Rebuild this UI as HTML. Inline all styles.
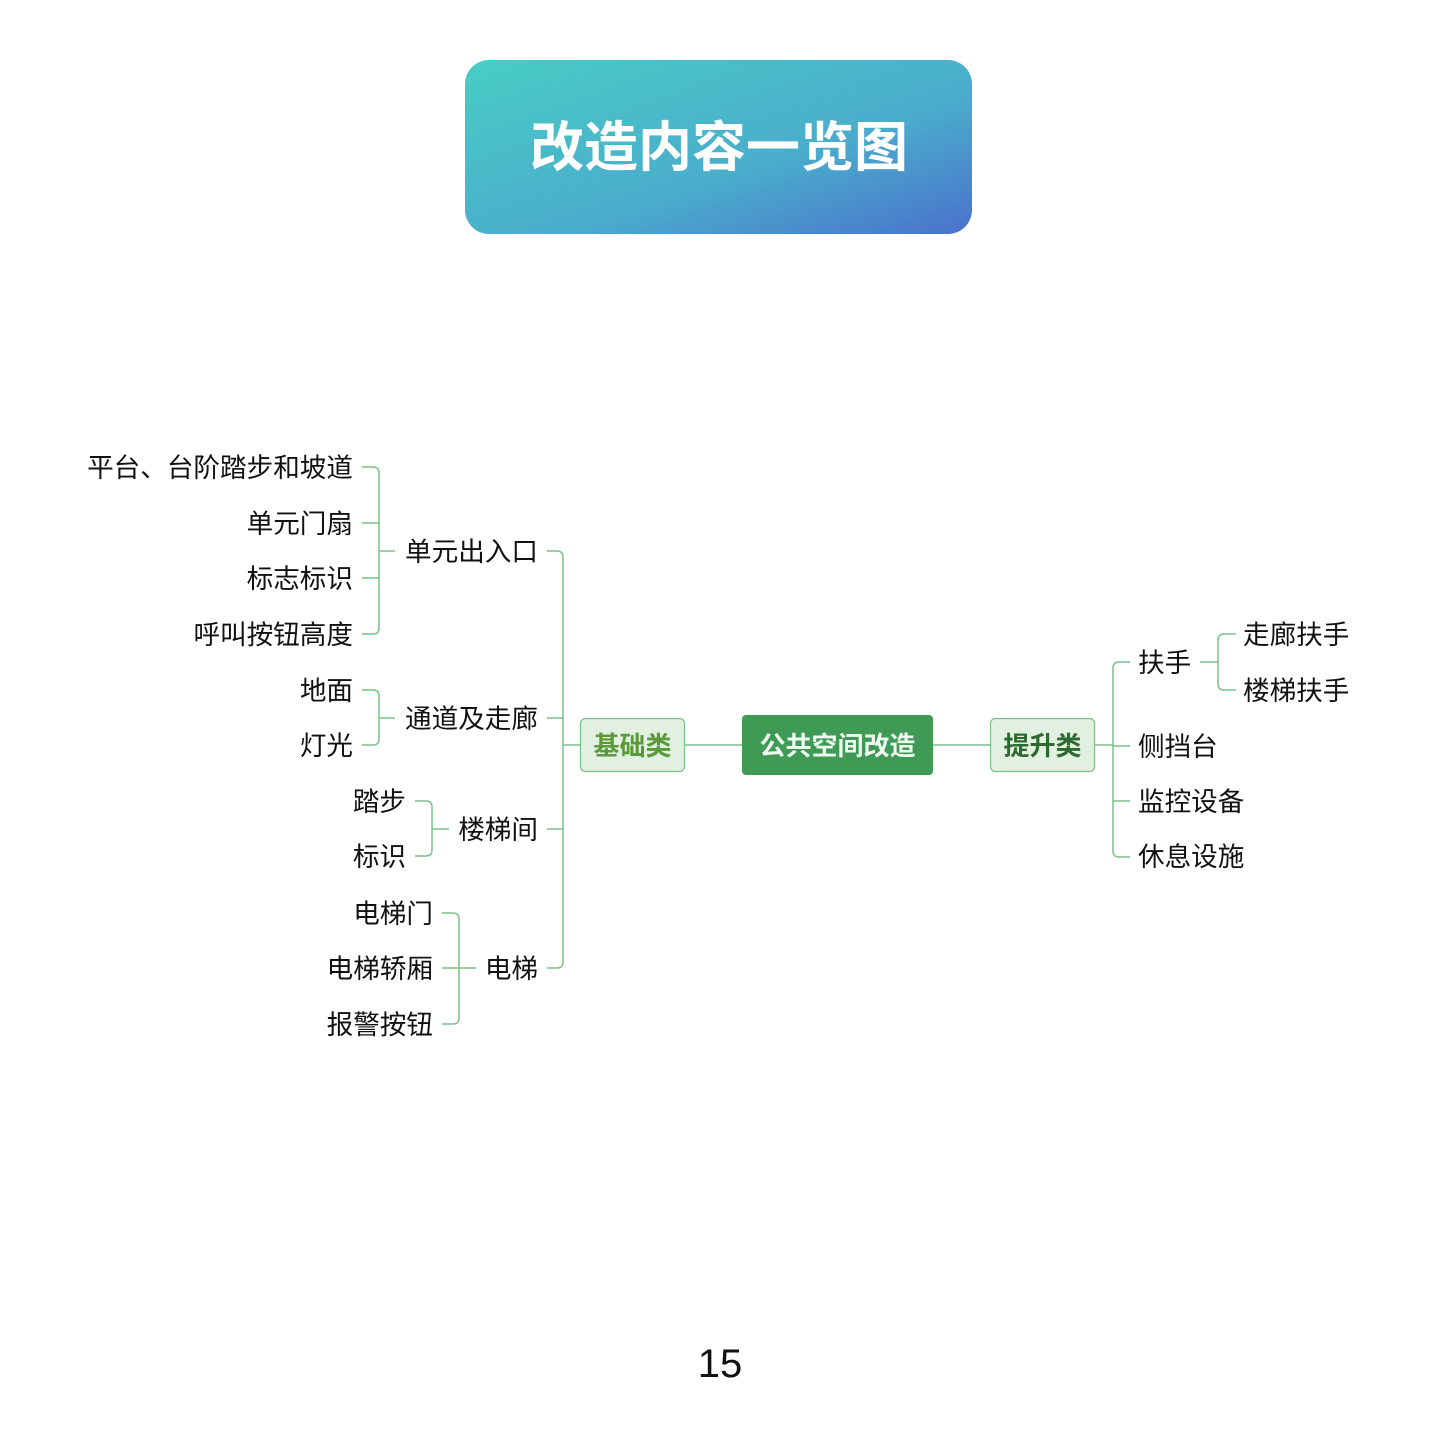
<!DOCTYPE html>
<html><head><meta charset="utf-8"><style>
html,body{margin:0;padding:0;background:#fff;}
svg{display:block;}
text{font-family:"Liberation Sans","Noto Sans CJK SC",sans-serif;}
</style></head><body>
<svg width="1440" height="1440" viewBox="0 0 1440 1440" xmlns="http://www.w3.org/2000/svg">
<defs>
<linearGradient id="g" x1="0" y1="0" x2="1" y2="1">
<stop offset="0" stop-color="#48cdc4"/><stop offset="0.6" stop-color="#4aaccc"/><stop offset="1" stop-color="#4a72cb"/>
</linearGradient>
</defs>
<rect x="465" y="60" width="507" height="174" rx="24" fill="url(#g)"/>
<text x="719" y="166" text-anchor="middle" font-size="54" font-weight="bold" fill="#fff">改造内容一览图</text>

<g fill="none" stroke="#7cc08a" stroke-width="1.5">
<path d="M362 467 H373 Q379 467 379 473 V628 Q379 634 373 634 H362"/>
<path d="M362 523 H379 M362 578 H379 M379 551 H395"/>
<path d="M362 690 H373 Q379 690 379 696 V739 Q379 745 373 745 H362 M379 718 H395"/>
<path d="M415 801 H426 Q432 801 432 807 V850 Q432 856 426 856 H415 M432 829 H449"/>
<path d="M442 913 H453 Q459 913 459 919 V1018 Q459 1024 453 1024 H442 M442 968 H476"/>
<path d="M547 551 H557 Q563 551 563 557 V962 Q563 968 557 968 H547 M547 718 H563 M547 829 H563 M563 745 H580"/>
<path d="M685 745 H742 M933 745 H990 M1095 745 H1113"/>
<path d="M1130 662 H1119 Q1113 662 1113 668 V851 Q1113 857 1119 857 H1130 M1113 746 H1130 M1113 801 H1130"/>
<path d="M1200 662 H1218 M1236 634 H1224 Q1218 634 1218 640 V684 Q1218 690 1224 690 H1236"/>
</g>

<rect x="580.5" y="718.5" width="104" height="53" rx="5" fill="#e1f0e1" stroke="#7cc08a" stroke-width="1.2"/>
<text x="632.5" y="755" text-anchor="middle" font-size="26" font-weight="bold" fill="#5a9a3a">基础类</text>
<rect x="742" y="715" width="191" height="60" rx="4" fill="#3f9a55"/>
<text x="837.5" y="755" text-anchor="middle" font-size="26" font-weight="bold" fill="#eefaf0">公共空间改造</text>
<rect x="990.5" y="718.5" width="104" height="53" rx="5" fill="#e1f0e1" stroke="#7cc08a" stroke-width="1.2"/>
<text x="1042.5" y="755" text-anchor="middle" font-size="26" font-weight="bold" fill="#2e6a30">提升类</text>

<g font-size="26.6" fill="#111">
<g text-anchor="end">
<text x="353" y="477">平台、台阶踏步和坡道</text>
<text x="353" y="533">单元门扇</text>
<text x="353" y="588">标志标识</text>
<text x="353" y="644">呼叫按钮高度</text>
<text x="353" y="700">地面</text>
<text x="353" y="755">灯光</text>
<text x="406" y="811">踏步</text>
<text x="406" y="866">标识</text>
<text x="433" y="923">电梯门</text>
<text x="433" y="978">电梯轿厢</text>
<text x="433" y="1034">报警按钮</text>
<text x="538" y="561">单元出入口</text>
<text x="538" y="728">通道及走廊</text>
<text x="538" y="839">楼梯间</text>
<text x="538" y="978">电梯</text>
</g>
<text x="1138" y="672">扶手</text>
<text x="1138" y="756">侧挡台</text>
<text x="1138" y="811">监控设备</text>
<text x="1138" y="866">休息设施</text>
<text x="1243" y="644">走廊扶手</text>
<text x="1243" y="700">楼梯扶手</text>
</g>
<text x="720" y="1377" text-anchor="middle" font-size="40" fill="#111">15</text>
</svg>
</body></html>
